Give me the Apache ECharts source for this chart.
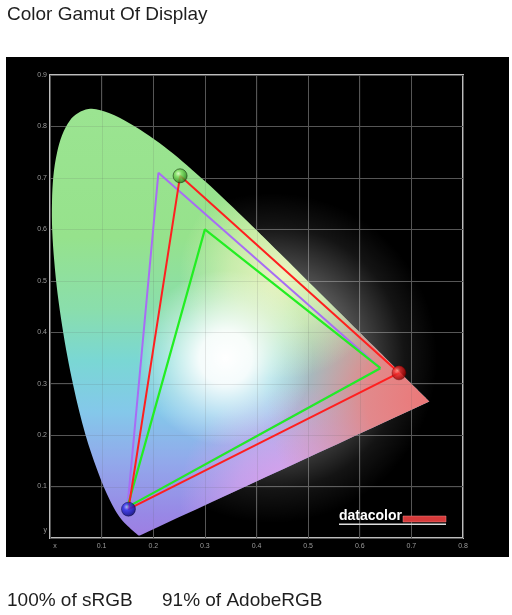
<!DOCTYPE html>
<html>
<head>
<meta charset="utf-8">
<script src="https://cdn.jsdelivr.net/npm/echarts@6/dist/echarts.min.js"></script>
<style>
html,body{margin:0;padding:0;background:#fff;}
#chart{width:512px;height:615px;}
</style>
</head>
<body>
<div id="chart"></div>
<script>
// CIE 1931 spectral locus (380-700 nm, 5 nm steps)
const locusX = [0.1741,0.1740,0.1738,0.1736,0.1733,0.1730,0.1726,0.1721,0.1714,0.1703,0.1689,0.1669,0.1644,0.1611,0.1566,0.1510,0.1440,0.1355,0.1241,0.1096,0.0913,0.0687,0.0454,0.0235,0.0082,0.0039,0.0139,0.0389,0.0743,0.1142,0.1547,0.1929,0.2296,0.2658,0.3016,0.3373,0.3731,0.4087,0.4441,0.4788,0.5125,0.5448,0.5752,0.6029,0.6270,0.6482,0.6658,0.6801,0.6915,0.7006,0.7079,0.7140,0.7190,0.7230,0.7260,0.7283,0.7300,0.7311,0.7320,0.7327,0.7334,0.7340,0.7344,0.7346,0.7347];
const locusY = [0.0050,0.0050,0.0049,0.0049,0.0048,0.0048,0.0048,0.0048,0.0051,0.0058,0.0069,0.0086,0.0109,0.0138,0.0177,0.0227,0.0297,0.0399,0.0578,0.0868,0.1327,0.2007,0.2950,0.4127,0.5384,0.6548,0.7502,0.8120,0.8338,0.8262,0.8059,0.7816,0.7543,0.7243,0.6923,0.6589,0.6245,0.5896,0.5547,0.5202,0.4866,0.4544,0.4242,0.3965,0.3725,0.3514,0.3340,0.3197,0.3083,0.2993,0.2920,0.2859,0.2809,0.2770,0.2740,0.2717,0.2700,0.2689,0.2680,0.2673,0.2666,0.2660,0.2656,0.2654,0.2653];

// Gamut triangles (red, green, blue primaries)
const displayGamut = [[0.676,0.321],[0.252,0.704],[0.152,0.056]];
const adobeGamut   = [[0.640,0.330],[0.210,0.710],[0.150,0.060]];
const srgbGamut    = [[0.640,0.330],[0.300,0.600],[0.150,0.060]];

const xTicks = [0,0.1,0.2,0.3,0.4,0.5,0.6,0.7,0.8];
const yTicks = [0,0.1,0.2,0.3,0.4,0.5,0.6,0.7,0.8,0.9];

const titleText = 'Color Gamut Of Display';
const summaryTexts = ['100% of sRGB', '91% of AdobeRGB'];

function closeLoop(pts){ return pts.concat([pts[0]]); }

const chart = echarts.init(document.getElementById('chart'), null, {renderer:'canvas'});

function locusRender(params, api){
  const pts = locusX.map((x,i)=>api.coord([x, locusY[i]]));
  const c = (x,y)=>api.coord([x,y]);
  const unit = api.size([1,1])[0];
  function radial(x,y,r,stops){
    const p = c(x,y);
    return new echarts.graphic.RadialGradient(p[0], p[1], r*unit, stops, true);
  }
  const children = [];
  // soft glow on black background
  const g = c(0.43,0.35);
  children.push({type:'circle', shape:{cx:g[0], cy:g[1], r:0.32*unit},
    style:{fill: radial(0.43,0.35,0.32,[
      {offset:0,color:'rgba(255,255,255,0.7)'},
      {offset:0.5,color:'rgba(255,255,255,0.32)'},
      {offset:0.8,color:'rgba(255,255,255,0.08)'},
      {offset:1,color:'rgba(255,255,255,0)'}])}});
  // base
  children.push({type:'polygon', shape:{points:pts, smooth:0.35}, style:{fill: new echarts.graphic.LinearGradient(0,0,0,1,[
    {offset:0,color:'rgb(155,228,145)'},
    {offset:0.30,color:'rgb(150,226,140)'},
    {offset:0.47,color:'rgb(138,222,172)'},
    {offset:0.59,color:'rgb(122,215,212)'},
    {offset:0.71,color:'rgb(132,200,234)'},
    {offset:0.83,color:'rgb(146,168,235)'},
    {offset:0.95,color:'rgb(152,136,230)'},
    {offset:1,color:'rgb(158,126,226)'}])}});
  const overlays = [
    radial(0.47,0.08,0.22,[{offset:0,color:'rgba(230,160,236,0.95)'},{offset:0.5,color:'rgba(226,162,236,0.6)'},{offset:1,color:'rgba(225,160,235,0)'}]),
    radial(0.74,0.27,0.32,[{offset:0,color:'rgba(236,118,118,1)'},{offset:0.4,color:'rgba(236,130,130,0.9)'},{offset:1,color:'rgba(236,150,150,0)'}]),
    radial(0.45,0.51,0.2,[{offset:0,color:'rgba(242,245,195,0.95)'},{offset:0.5,color:'rgba(236,244,185,0.6)'},{offset:1,color:'rgba(230,244,180,0)'}]),
    radial(0.34,0.35,0.17,[{offset:0,color:'rgba(255,255,255,1)'},{offset:0.3,color:'rgba(255,255,255,0.92)'},{offset:0.7,color:'rgba(255,255,255,0.35)'},{offset:1,color:'rgba(255,255,255,0)'}])
  ];
  overlays.forEach(f=>children.push({type:'polygon', shape:{points:pts, smooth:0.35}, style:{fill:f}}));
  return {type:'group', children};
}

function gridOverlayRender(params, api){
  const children = [];
  const lineStyle = {stroke:'rgba(90,90,90,0.14)', lineWidth:1};
  xTicks.slice(1,-1).forEach(v=>{
    const a = api.coord([v,0]), b = api.coord([v,0.9]);
    children.push({type:'line', shape:{x1:Math.round(a[0])+0.5,y1:a[1],x2:Math.round(b[0])+0.5,y2:b[1]}, style:lineStyle});
  });
  yTicks.slice(1,-1).forEach(v=>{
    const a = api.coord([0,v]), b = api.coord([0.8,v]);
    children.push({type:'line', shape:{x1:a[0],y1:Math.round(a[1])+0.5,x2:b[0],y2:Math.round(b[1])+0.5}, style:lineStyle});
  });
  return {type:'group', children};
}

function sphere(c0,c1,c2,c3){
  return new echarts.graphic.RadialGradient(0.38,0.35,0.7,[
    {offset:0,color:c0},{offset:0.3,color:c1},{offset:0.75,color:c2},{offset:1,color:c3}]);
}

const fontFam = '"Liberation Sans", Arial, sans-serif';

chart.setOption({
  animation:false,
  backgroundColor:'#ffffff',
  graphic:[
    {type:'rect', z:-10, shape:{x:6,y:57,width:503,height:500}, style:{fill:'#000'}},
    {type:'text', left:7, top:5, style:{text:titleText, fill:'#1e1e1e', font:'19px '+fontFam}},
    {type:'text', left:7, top:591, style:{text:summaryTexts[0], fill:'#1e1e1e', font:'19px '+fontFam}},
    {type:'text', left:162, top:591, style:{text:summaryTexts[1], fill:'#1e1e1e', font:'19px '+fontFam}},
    {type:'text', z:100, left:339, top:509, style:{text:'datacolor', fill:'#ffffff', font:'bold 14px '+fontFam}},
    {type:'rect', z:100, shape:{x:403,y:516,width:43,height:6}, style:{fill:'#d63a3a', stroke:'#e88',lineWidth:0.5}},
    {type:'rect', z:100, shape:{x:339,y:523.5,width:107,height:1.5}, style:{fill:'#dddddd'}}
  ],
  grid:{left:50, right:49, top:75, bottom:77, show:true, borderColor:'#bdbdbd', borderWidth:2, backgroundColor:'#000'},
  xAxis:{type:'value', min:0, max:0.8, interval:0.1,
    axisLine:{show:false}, axisTick:{show:false},
    splitLine:{show:true, lineStyle:{color:'#555', width:1}},
    axisLabel:{color:'#9a9a9a', fontSize:7, margin:5, fontFamily:fontFam,
      formatter:v=> v===0 ? '{a|x}' : v.toFixed(1),
      rich:{a:{color:'#9a9a9a', fontSize:7, padding:[0,0,0,10]}}}},
  yAxis:{type:'value', min:0, max:0.9, interval:0.1,
    axisLine:{show:false}, axisTick:{show:false},
    splitLine:{show:true, lineStyle:{color:'#555', width:1}},
    axisLabel:{color:'#9a9a9a', fontSize:7, margin:3, fontFamily:fontFam,
      formatter:v=> v===0 ? '{a|y}' : v.toFixed(1),
      rich:{a:{color:'#9a9a9a', fontSize:7, padding:[0,0,16,0]}}}},
  series:[
    {type:'custom', name:'locus', renderItem:locusRender, data:[[0,0]], z:1, silent:true},
    {type:'custom', name:'gridOverlay', renderItem:gridOverlayRender, data:[[0,0]], z:2, silent:true},
    {type:'line', name:'AdobeRGB', data:closeLoop(adobeGamut), showSymbol:false, z:3,
      lineStyle:{color:'#a86cf5', width:2}},
    {type:'line', name:'sRGB', data:closeLoop(srgbGamut), showSymbol:false, z:3,
      lineStyle:{color:'#22ee22', width:2.2}},
    {type:'line', name:'Display', data:closeLoop(displayGamut), showSymbol:false, z:4,
      lineStyle:{color:'#ff1f1f', width:2}},
    {type:'scatter', name:'primaries', z:5, symbolSize:14,
      data:[
        {value:displayGamut[0], itemStyle:{color:sphere('#ffb0a0','#f03030','#b00808','#6a0000'), borderColor:'rgba(90,0,0,0.6)', borderWidth:0.8}},
        {value:displayGamut[1], itemStyle:{color:sphere('#e8ffd0','#80dd60','#3a9a28','#1d4d12'), borderColor:'rgba(30,60,20,0.8)', borderWidth:1}},
        {value:displayGamut[2], itemStyle:{color:sphere('#b8b8ff','#3030e8','#10109a','#05054a'), borderColor:'rgba(10,10,60,0.7)', borderWidth:0.8}}
      ]}
  ]
});
</script>
</body>
</html>
